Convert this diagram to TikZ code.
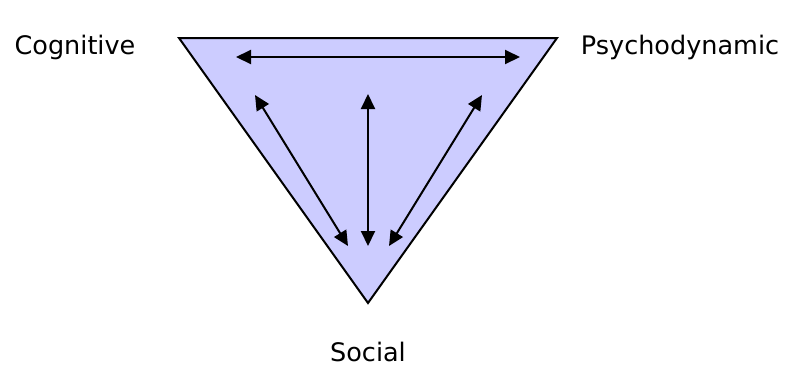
\documentclass[tikz,border=0pt]{standalone}
\usepackage{fontspec}
\setmainfont{DejaVu Sans}
\usetikzlibrary{arrows.meta}
\definecolor{triblue}{HTML}{CCCCFF}

\begin{document}
\begin{tikzpicture}[
  x=1pt, y=-1pt,
  label/.style={font=\fontsize{25.5}{30}\selectfont, inner sep=0pt},
  tri/.style={draw, line width=2pt, fill=triblue},
  link/.style={{Triangle[length=15pt,width=14pt]}-{Triangle[length=15pt,width=14pt]}, line width=2pt},
]
\useasboundingbox (0,0) rectangle (807,368);
% triangle corners
\coordinate (tl) at (179,38);
\coordinate (tr) at (557,38);
\coordinate (bt) at (368,303);
\draw[tri] (tl) -- (tr) -- (bt) -- cycle;
% labels
\node[label] (cognitive) at (75,47) {Cognitive};
\node[label] (psycho) at (680,47) {Psychodynamic};
\node[label] (social) at (368,352) {Social};
% arrow ends
\coordinate (hl) at (236,57);
\coordinate (hr) at (520,57);
\coordinate (lt) at (255,95);
\coordinate (lb) at (348,246);
\coordinate (mt) at (368,94);
\coordinate (mb) at (368,246);
\coordinate (rt) at (482,95);
\coordinate (rb) at (389,246);
\draw[link] (hl) -- (hr);
\draw[link] (lt) -- (lb);
\draw[link] (mt) -- (mb);
\draw[link] (rt) -- (rb);
\end{tikzpicture}
\end{document}
